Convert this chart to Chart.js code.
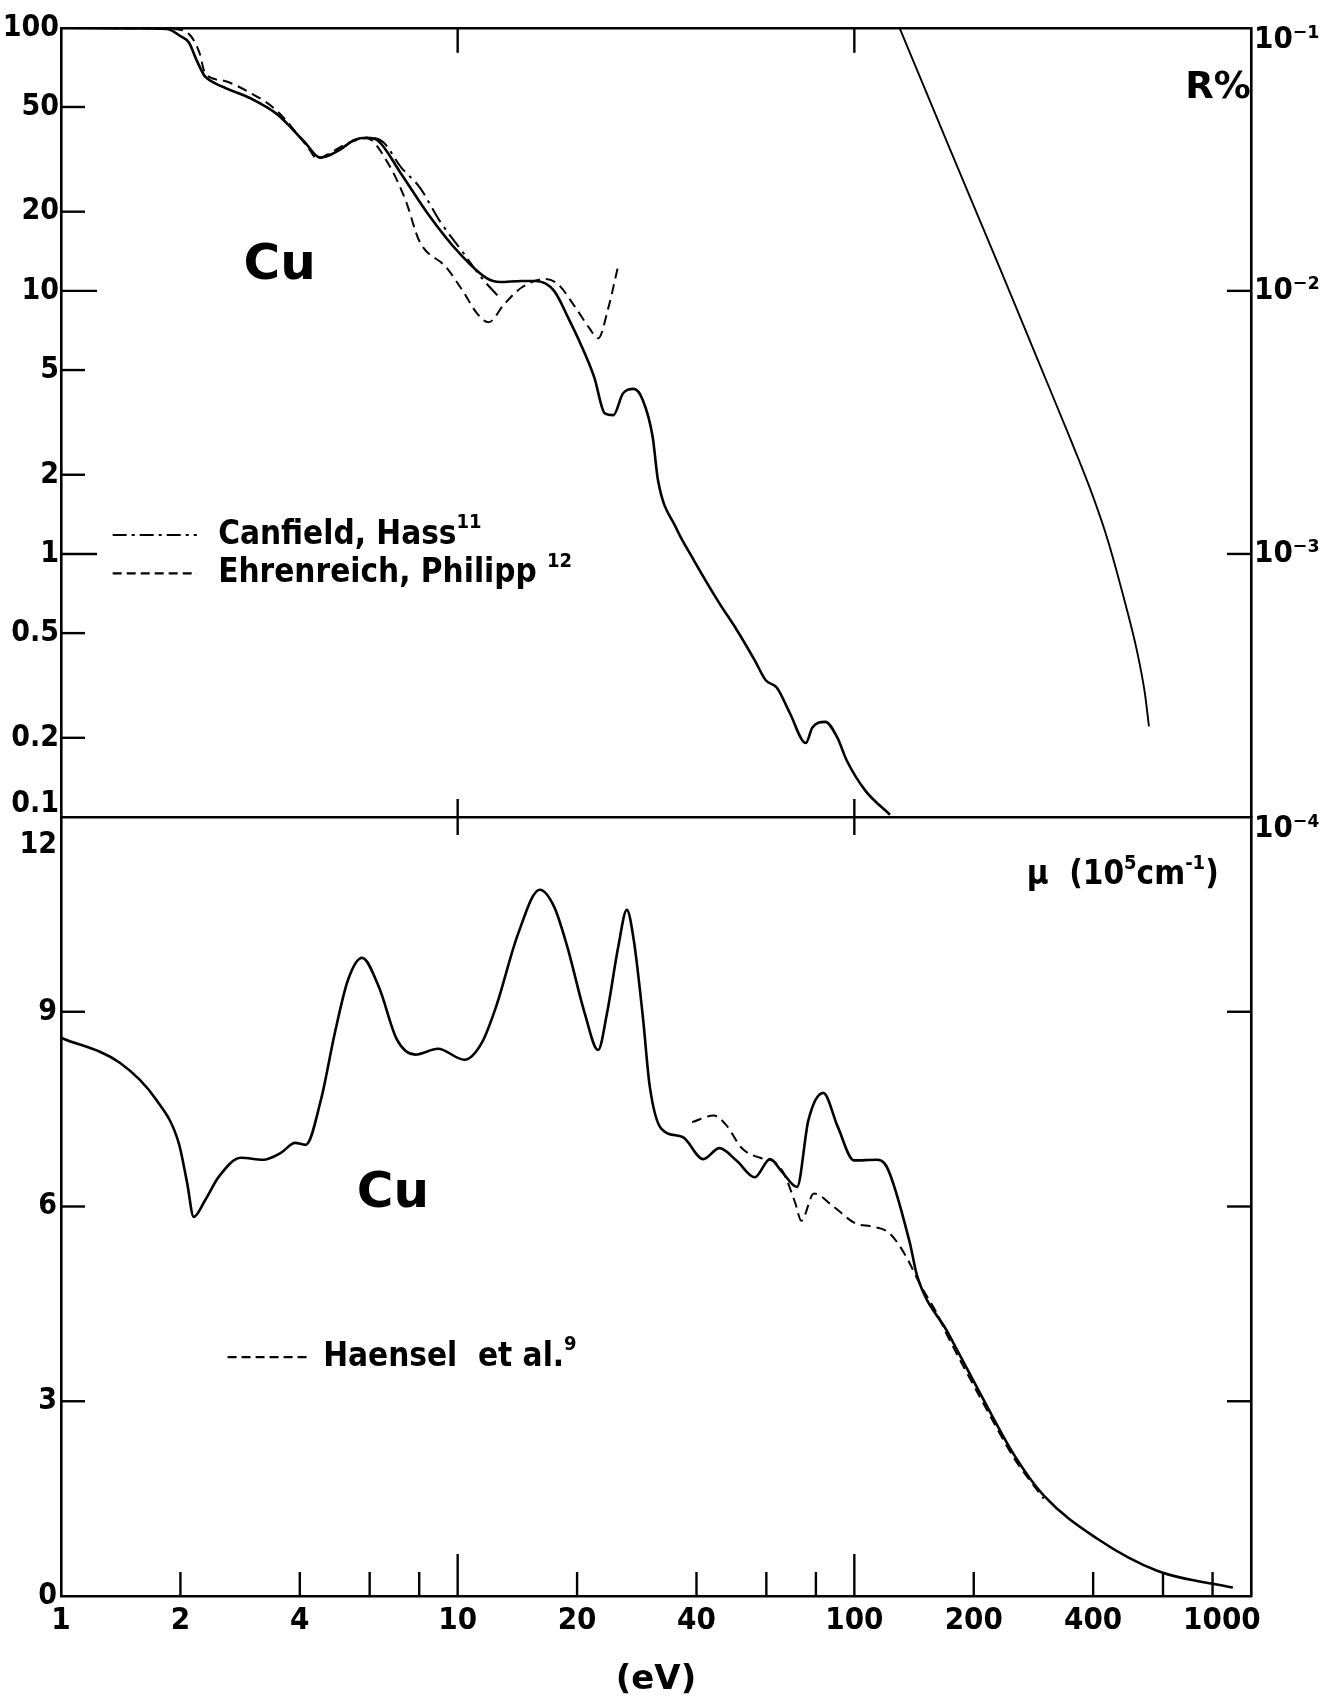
<!DOCTYPE html>
<html>
<head>
<meta charset="utf-8">
<title>Cu – reflectance and absorption coefficient</title>
<script src="https://cdn.jsdelivr.net/npm/chart.js@4.4.1/dist/chart.umd.min.js"></script>
<style>
  html, body { margin: 0; padding: 0; background: #fff; }
  #wrap { position: relative; width: 1337px; height: 1701px; }
  #wrap canvas { position: absolute; left: 0; top: 0; }
</style>
</head>
<body>
<div id="wrap">
  <canvas id="reflChart" width="1337" height="1701"></canvas>
  <canvas id="absChart" width="1337" height="1701"></canvas>
</div>
<script>
// ---- tick values / labels ----
const eTickVals = [1, 2, 4, 10, 20, 40, 100, 200, 400, 1000];
const eMinorTicks = [2, 4, 6, 8, 20, 40, 60, 80, 200, 400, 600, 800];
const eMajorTicks = [10, 100];
const rTickVals = [0.1, 0.2, 0.5, 1, 2, 5, 10, 20, 50, 100];
const rRightTickVals = [1e-4, 1e-3, 1e-2, 1e-1];
const rRightTickLabels = ['10⁻⁴', '10⁻³', '10⁻²', '10⁻¹'];

// ---- reflectance R% (left scale), this work ----
const reflE = [1, 1.5, 1.85, 2.0, 2.1, 2.2, 2.3, 2.4, 2.6, 3.0, 3.5, 4.1, 4.5, 5.0, 5.5, 5.9, 6.3, 7.2, 8.4, 10.1,
  11.8, 12.8, 14.5, 15.7, 17.5, 19.0, 20.4, 22.1, 23.5, 24.7, 26.1, 27.8, 29.3, 31, 32, 35.5, 39.4, 45.7, 50.6, 56.1,
  59.8, 63.8, 68.8, 75.5, 78.4, 84.5, 90.5, 95.7, 106.6, 123];
const reflR = [100, 99.6, 99, 93, 88, 75, 65.7, 62.5, 59, 54, 47, 37, 32.1, 34.1, 37.5, 38.2, 37.2, 27.9, 19.7, 13.9,
  11.2, 10.8, 10.9, 10.9, 10.0, 7.9, 6.3, 4.69, 3.42, 3.37, 4.07, 4.24, 3.84, 2.8, 1.9, 1.26, 0.946, 0.649, 0.513, 0.394,
  0.331, 0.31, 0.248, 0.191, 0.219, 0.23, 0.201, 0.164, 0.126, 0.102];

// Canfield, Hass
const chE = [1, 1.5, 1.85, 2.0, 2.1, 2.2, 2.3, 2.4, 2.6, 3.0, 3.5, 4.1, 4.5, 5.0, 5.5, 5.9, 6.43, 7.2, 8.03, 9.0, 10.35, 11.5, 12.6];
const chR = [100, 99.6, 99, 93, 88, 75, 65.7, 62.5, 59, 54, 47, 37, 32.1, 34.1, 37.5, 38.2, 37.2, 29.5, 24.7, 18.5, 13.9, 11.2, 9.6];

// Ehrenreich, Philipp
const epE = [1, 1.5, 1.9, 2.08, 2.23, 2.31, 2.56, 3.0, 3.5, 4.2, 4.42, 4.7, 5.3, 5.9, 6.68, 7.4, 8.0, 9.35, 10.3, 11.2,
  11.96, 13.1, 14.5, 16.6, 17.9, 19.8, 21.5, 22.6, 24.0, 25.4];
const epR = [100, 99.6, 99, 96, 81, 67, 63, 56.6, 48.4, 35, 31.8, 33, 36.5, 38, 30.5, 22, 15.5, 12.3, 10.0, 8.2,
  7.6, 8.9, 10.3, 11.1, 10.6, 8.66, 7.2, 6.6, 8.66, 12.5];

// high energy reflectance (right scale)
const hiE = [130, 174, 233, 294, 350, 393, 433, 476, 516, 540, 553];
const hiR = [0.1, 0.0347, 0.01215, 0.0052, 0.00275, 0.00177, 0.00116, 6.96e-4, 4.27e-4, 2.96e-4, 2.21e-4];

// ---- absorption coefficient mu (10^5 cm^-1) ----
const muE = [1, 1.41, 1.74, 1.98, 2.08, 2.16, 2.31, 2.5, 2.84, 3.23, 3.59, 3.89, 4.14, 4.52, 4.9, 5.29, 5.74, 6.33, 7.03, 7.82,
  8.92, 10.4, 11.5, 12.5, 14.2, 16.1, 17.5, 18.9, 20.9, 22.6, 23.8, 25.4, 26.7, 27.8, 29.3, 30.5, 32.6, 36.9, 41.6, 45.7,
  50.6, 56.1, 61.3, 65.4, 71.7, 76.6, 83.5, 90.8, 99.8, 113.5, 121, 138, 144, 172, 211, 253, 300, 408, 582, 900];
const muV = [8.6, 8.21, 7.64, 6.98, 6.36, 5.84, 6.1, 6.46, 6.75, 6.72, 6.83, 6.98, 6.95, 7.64, 8.67, 9.49, 9.83, 9.38, 8.57, 8.34,
  8.43, 8.26, 8.52, 9.08, 10.2, 10.88, 10.62, 10.0, 8.98, 8.41, 8.98, 10.0, 10.57, 10.1, 8.92, 7.85, 7.2, 7.07, 6.73, 6.9,
  6.7, 6.45, 6.73, 6.55, 6.3, 7.33, 7.75, 7.23, 6.71, 6.72, 6.6, 5.44, 4.93, 4.06, 3.04, 2.17, 1.55, 0.89, 0.385, 0.13];

// Haensel et al.
const haE = [39, 44.2, 47.6, 52, 57.8, 62.5, 66.5, 71, 73.5, 79.1, 88.5, 100.6, 111, 122, 133, 148, 160, 172, 211, 253, 300];
const haV = [7.3, 7.4, 7.25, 6.9, 6.75, 6.7, 6.5, 6.05, 5.78, 6.2, 6.0, 5.74, 5.69, 5.6, 5.3, 4.75, 4.4, 4.0, 2.98, 2.12, 1.5];

const FONT_C = '"DejaVu Sans Condensed", "DejaVu Sans", sans-serif';
const FONT_W = '"DejaVu Sans", sans-serif';
Chart.defaults.font.family = FONT_C;
Chart.defaults.font.weight = 'bold';
Chart.defaults.color = '#000';

const pts = (xs, ys) => xs.map((x, i) => ({x: x, y: ys[i]}));
const setTicks = vals => scale => { scale.ticks = vals.map(v => ({value: v})); };
const fixW = w => s => { s.width = w; };
const fixH = h => s => { s.height = h; };
const noGrid = {display: false, drawTicks: false};
const frame = {display: true, color: '#000', width: 2.6};

// short tick marks pointing into the plot area
function tickMarks(marks) {
  return {
    id: 'tickMarks',
    afterDatasetsDraw(chart) {
      const ctx = chart.ctx, a = chart.chartArea;
      ctx.save();
      ctx.strokeStyle = '#000';
      ctx.lineWidth = 2.4;
      marks.forEach(m => {
        const sc = chart.scales[m.scale];
        m.values.forEach(v => {
          const p = sc.getPixelForValue(v);
          ctx.beginPath();
          if (m.side === 'bottom') { ctx.moveTo(p, a.bottom); ctx.lineTo(p, a.bottom - m.len); }
          else if (m.side === 'top') { ctx.moveTo(p, a.top); ctx.lineTo(p, a.top + m.len); }
          else if (m.side === 'cross') { ctx.moveTo(p, a.bottom - m.len); ctx.lineTo(p, a.bottom + m.len); }
          else if (m.side === 'left') { ctx.moveTo(a.left, p); ctx.lineTo(a.left + m.len, p); }
          else if (m.side === 'right') { ctx.moveTo(a.right, p); ctx.lineTo(a.right - m.len, p); }
          ctx.stroke();
        });
      });
      ctx.restore();
    }
  };
}

// labels (parts starting with ^ are superscripts) and key lines, in data coordinates
function annotations(texts, keys) {
  return {
    id: 'annotations',
    afterDatasetsDraw(chart) {
      const ctx = chart.ctx, xs = chart.scales.x;
      ctx.save();
      ctx.fillStyle = '#000';
      ctx.strokeStyle = '#000';
      keys.forEach(k => {
        const y = chart.scales[k.axis].getPixelForValue(k.y);
        ctx.lineWidth = 2.2;
        ctx.setLineDash(k.dash);
        ctx.beginPath();
        ctx.moveTo(xs.getPixelForValue(k.from), y);
        ctx.lineTo(xs.getPixelForValue(k.to), y);
        ctx.stroke();
      });
      ctx.setLineDash([]);
      ctx.textBaseline = 'middle';
      ctx.textAlign = 'left';
      texts.forEach(t => {
        const fam = t.family || FONT_C;
        const fontFor = sup => 'bold ' + (sup ? Math.round(t.size * 0.62) : t.size) + 'px ' + fam;
        let total = 0;
        t.parts.forEach(p => {
          ctx.font = fontFor(p[0] === '^');
          total += ctx.measureText(p.replace(/^\^/, '')).width;
        });
        let cx = xs.getPixelForValue(t.x);
        const cy = chart.scales[t.axis].getPixelForValue(t.y);
        if (t.align === 'center') cx -= total / 2;
        t.parts.forEach(p => {
          const sup = p[0] === '^';
          const s = p.replace(/^\^/, '');
          ctx.font = fontFor(sup);
          ctx.fillText(s, cx, sup ? cy - t.size * 0.36 : cy);
          cx += ctx.measureText(s).width;
        });
      });
      ctx.restore();
    }
  };
}

const lineDefaults = {borderColor: '#000', pointRadius: 0, fill: false, cubicInterpolationMode: 'monotone'};

// ---------- upper panel: reflectance ----------
new Chart(document.getElementById('reflChart'), {
  type: 'line',
  data: {
    datasets: [
      Object.assign({label: 'R this work', data: pts(reflE, reflR), yAxisID: 'y', borderWidth: 2.6}, lineDefaults),
      Object.assign({label: 'Canfield, Hass', data: pts(chE, chR), yAxisID: 'y', borderWidth: 2, borderDash: [16, 6, 3, 6]}, lineDefaults),
      Object.assign({label: 'Ehrenreich, Philipp', data: pts(epE, epR), yAxisID: 'y', borderWidth: 2, borderDash: [10, 6]}, lineDefaults),
      Object.assign({label: 'R high energy', data: pts(hiE, hiR), yAxisID: 'yR', borderWidth: 1.9}, lineDefaults)
    ]
  },
  options: {
    responsive: false,
    animation: false,
    layout: {padding: {top: 27, bottom: 884, left: 0, right: 0}},
    plugins: {legend: {display: false}, tooltip: {enabled: false}},
    scales: {
      x: {type: 'logarithmic', position: 'bottom', min: 1, max: 1000, grid: noGrid, border: frame,
          ticks: {display: false}, afterFit: fixH(0)},
      xTop: {type: 'logarithmic', position: 'top', min: 1, max: 1000, grid: noGrid, border: frame,
          ticks: {display: false}, afterFit: fixH(0)},
      y: {type: 'logarithmic', position: 'left', min: 0.1, max: 100, grid: noGrid, border: frame,
          afterBuildTicks: setTicks(rTickVals), afterFit: fixW(61),
          ticks: {autoSkip: false, padding: 2, font: {size: 30, lineHeight: 0.85},
                  callback: v => v === 0.1 ? ['0.1', ''] : String(v)}},
      yR: {type: 'logarithmic', position: 'right', min: 1e-4, max: 1e-1, grid: noGrid, border: frame,
          afterBuildTicks: setTicks(rRightTickVals), afterFit: fixW(86),
          ticks: {autoSkip: false, padding: 3, font: {size: 31, lineHeight: 0.8},
                  callback: (v, i) => (i === 0 || i === 3) ? ['', rRightTickLabels[i]] : rRightTickLabels[i]}}
    }
  },
  plugins: [
    tickMarks([
      {scale: 'xTop', side: 'top', len: 25, values: eMajorTicks},
      {scale: 'x', side: 'cross', len: 18, values: eMajorTicks},
      {scale: 'y', side: 'left', len: 24, values: [50, 20, 5, 2, 0.5, 0.2]},
      {scale: 'y', side: 'left', len: 36, values: [10, 1]},
      {scale: 'yR', side: 'right', len: 24, values: [1e-2, 1e-3]}
    ]),
    annotations([
      {parts: ['Cu'], x: 3.56, y: 12.4, axis: 'y', size: 50, align: 'center', family: FONT_W},
      {parts: ['R%'], x: 826, y: 59, axis: 'y', size: 37, align: 'center', family: FONT_W},
      {parts: ['Canfield, Hass', '^11'], x: 2.49, y: 1.18, axis: 'y', size: 33},
      {parts: ['Ehrenreich, Philipp ', '^12'], x: 2.49, y: 0.844, axis: 'y', size: 33}
    ], [
      {from: 1.35, to: 2.2, y: 1.18, axis: 'y', dash: [14, 5, 3, 5]},
      {from: 1.35, to: 2.2, y: 0.844, axis: 'y', dash: [9, 5]}
    ])
  ]
});

// ---------- lower panel: absorption coefficient ----------
new Chart(document.getElementById('absChart'), {
  type: 'line',
  data: {
    datasets: [
      Object.assign({label: 'mu this work', data: pts(muE, muV), yAxisID: 'y', borderWidth: 2.6}, lineDefaults),
      Object.assign({label: 'Haensel et al.', data: pts(haE, haV), yAxisID: 'y', borderWidth: 2, borderDash: [10, 6]}, lineDefaults)
    ]
  },
  options: {
    responsive: false,
    animation: false,
    layout: {padding: {top: 817, bottom: 0, left: 0, right: 0}},
    plugins: {legend: {display: false}, tooltip: {enabled: false}},
    scales: {
      x: {type: 'logarithmic', position: 'bottom', min: 1, max: 1000, grid: noGrid, border: frame,
          afterBuildTicks: setTicks(eTickVals), afterFit: fixH(105),
          title: {display: true, text: '(eV)', font: {size: 34, family: FONT_W}, padding: 0},
          ticks: {autoSkip: false, maxRotation: 0, minRotation: 0, padding: 6, font: {size: 31},
                  callback: v => v === 1000 ? '1000\u2007\u2007\u2007' : String(v)}},
      y: {type: 'linear', position: 'left', min: 0, max: 12, grid: noGrid, border: frame, afterFit: fixW(61),
          ticks: {stepSize: 3, autoSkip: false, padding: 4, font: {size: 30, lineHeight: 1.85},
                  callback: v => v === 12 ? ['', '12'] : String(v)}},
      yR: {type: 'linear', position: 'right', min: 0, max: 12, grid: noGrid, border: frame, afterFit: fixW(86),
          ticks: {display: false, stepSize: 3}}
    }
  },
  plugins: [
    tickMarks([
      {scale: 'x', side: 'bottom', len: 24, values: eMinorTicks},
      {scale: 'x', side: 'bottom', len: 42, values: eMajorTicks},
      {scale: 'y', side: 'left', len: 24, values: [3, 6, 9]},
      {scale: 'yR', side: 'right', len: 24, values: [3, 6, 9]}
    ]),
    annotations([
      {parts: ['Cu'], x: 6.87, y: 6.19, axis: 'y', size: 50, align: 'center', family: FONT_W},
      {parts: ['μ  (10', '^5', 'cm', '^-1', ')'], x: 272, y: 11.1, axis: 'y', size: 33},
      {parts: ['Haensel  et al.', '^9'], x: 4.58, y: 3.68, axis: 'y', size: 33}
    ], [
      {from: 2.63, to: 4.24, y: 3.68, axis: 'y', dash: [9, 5]}
    ])
  ]
});
</script>
</body>
</html>
